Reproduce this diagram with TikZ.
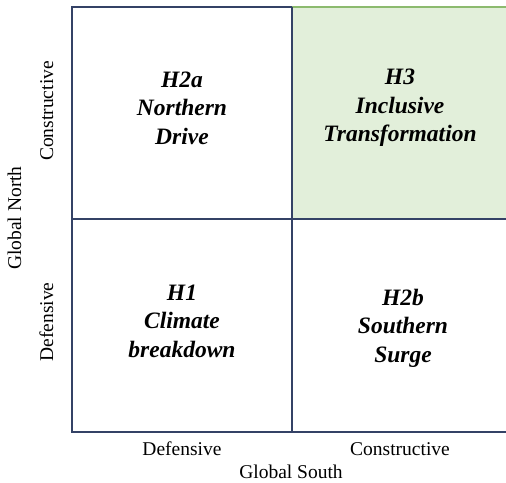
\documentclass[tikz,border=0pt]{standalone}
\usepackage{fontspec}
\setmainfont{Liberation Serif}
\definecolor{gridline}{RGB}{52,66,102}
\definecolor{cellgreen}{RGB}{226,239,218}
\definecolor{celledge}{RGB}{140,186,110}
\begin{document}
\begin{tikzpicture}[x=1pt,y=-1pt,
  gridrule/.style={draw=gridline, line width=1.2pt},
  quadtext/.style={font=\fontsize{23.5}{28.5}\selectfont\bfseries\itshape, align=center, inner sep=0pt},
  axislabel/.style={font=\fontsize{19.5}{23}\selectfont, inner sep=0pt, anchor=base}]
\useasboundingbox (0,0) rectangle (506,482);

% shaded quadrant (top right)
\fill[cellgreen] (292,7) rectangle (506,219);
\draw[draw=celledge, line width=1.2pt] (292,7) -- (506,7);

% grid lines
\draw[gridrule] (292,7) -- (72,7) -- (72,432) -- (506,432);
\draw[gridrule] (72,219) -- (506,219);
\draw[gridrule] (292,7) -- (292,432);

% quadrant labels
\node[quadtext] (h2a) at (182,108) {H2a\\Northern\\Drive};
\node[quadtext] (h3) at (400,108) {H3\\Inclusive\\Transformation};
\node[quadtext] (h1) at (182,321) {H1\\Climate\\breakdown};
\node[quadtext] (h2b) at (403,328) {H2b\\Southern\\Surge};

% axis labels
\node[axislabel] (sdef) at (182,455) {Defensive};
\node[axislabel] (scon) at (400,455) {Constructive};
\node[axislabel] (south) at (291,478) {Global South};
\node[axislabel, rotate=90] (ncon) at (53,111) {Constructive};
\node[axislabel, rotate=90] (ndef) at (53,322) {Defensive};
\node[axislabel, rotate=90] (north) at (21,218) {Global North};
\end{tikzpicture}
\end{document}
